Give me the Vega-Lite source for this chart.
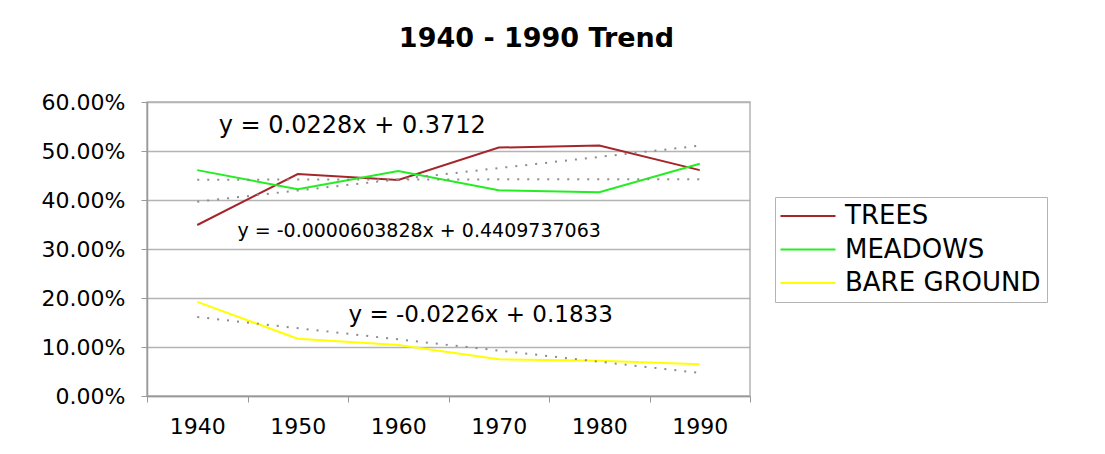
{
  "$schema": "https://vega.github.io/schema/vega-lite/v6.json",
  "width": 603,
  "height": 294,
  "padding": {"left": 41, "top": 25, "right": 10, "bottom": 10},
  "background": "white",
  "title": {"text": "1940 - 1990 Trend", "font": "DejaVu Sans", "fontSize": 27, "fontWeight": "bold", "color": "#000000", "anchor": "middle", "frame": "group", "dx": 88, "offset": 38},
  "config": {"view": {"stroke": "#b4b4b4", "strokeWidth": 1.5}, "font": "DejaVu Sans"},
  "datasets": {
    "shares": [
      {"series": "TREES", "year": 1940, "share": 0.349},
      {"series": "TREES", "year": 1950, "share": 0.453},
      {"series": "TREES", "year": 1960, "share": 0.441},
      {"series": "TREES", "year": 1970, "share": 0.507},
      {"series": "TREES", "year": 1980, "share": 0.511},
      {"series": "TREES", "year": 1990, "share": 0.461},
      {"series": "MEADOWS", "year": 1940, "share": 0.461},
      {"series": "MEADOWS", "year": 1950, "share": 0.422},
      {"series": "MEADOWS", "year": 1960, "share": 0.459},
      {"series": "MEADOWS", "year": 1970, "share": 0.420},
      {"series": "MEADOWS", "year": 1980, "share": 0.416},
      {"series": "MEADOWS", "year": 1990, "share": 0.474},
      {"series": "BARE GROUND", "year": 1940, "share": 0.192},
      {"series": "BARE GROUND", "year": 1950, "share": 0.117},
      {"series": "BARE GROUND", "year": 1960, "share": 0.104},
      {"series": "BARE GROUND", "year": 1970, "share": 0.075},
      {"series": "BARE GROUND", "year": 1980, "share": 0.072},
      {"series": "BARE GROUND", "year": 1990, "share": 0.065}
    ]
  },
  "layer": [
    {
      "data": {"name": "shares"},
      "mark": {"type": "line", "strokeWidth": 2},
      "encoding": {
        "x": {
          "field": "year", "type": "ordinal", "bandPosition": 0.5,
          "scale": {"type": "band", "paddingInner": 0, "paddingOuter": 0},
          "axis": {"title": null, "labelAngle": 0, "tickBand": "extent", "labelFont": "DejaVu Sans", "labelFontSize": 22, "labelColor": "#000000", "labelPadding": 14, "tickSize": 6, "tickColor": "#999999", "domainColor": "#999999", "domainWidth": 1.5, "grid": false}
        },
        "y": {
          "field": "share", "type": "quantitative",
          "scale": {"domain": [0, 0.6], "nice": false},
          "axis": {"title": null, "format": ".2%", "values": [0, 0.1, 0.2, 0.3, 0.4, 0.5, 0.6], "labelFont": "DejaVu Sans", "labelFontSize": 22, "labelColor": "#000000", "labelPadding": 16, "tickSize": 6, "tickColor": "#999999", "domainColor": "#999999", "domainWidth": 1.5, "grid": true, "gridColor": "#b4b4b4", "gridWidth": 1.5}
        },
        "color": {
          "field": "series", "type": "nominal",
          "scale": {"domain": ["TREES", "MEADOWS", "BARE GROUND"], "range": ["#A3262A", "#22EE22", "#FFFF00"]},
          "legend": {"title": null, "orient": "none", "legendX": 628, "legendY": 95, "labelFont": "DejaVu Sans", "labelFontSize": 26, "labelColor": "#000000", "symbolType": "M-2.75,0H2.75", "symbolSize": 400, "symbolStrokeWidth": 2, "symbolOffset": 14, "labelOffset": 24, "rowPadding": 7.5, "padding": 6, "strokeColor": "#b4b4b4", "fillColor": "white", "labelLimit": 400}
        }
      }
    },
    {
      "data": {"name": "shares"},
      "transform": [{"regression": "share", "on": "year", "groupby": ["series"]}],
      "mark": {"type": "line", "strokeDash": [2, 8], "strokeWidth": 2, "color": "#8c8c8c"},
      "encoding": {
        "x": {"field": "year", "type": "ordinal", "bandPosition": 0.5},
        "y": {"field": "share", "type": "quantitative"},
        "detail": {"field": "series"}
      }
    },
    {
      "data": {"values": [{"label": "y = 0.0228x + 0.3712", "year": 1960, "share": 0.5516}]},
      "mark": {"type": "text", "align": "center", "baseline": "middle", "fontSize": 24, "font": "DejaVu Sans", "color": "#000000"},
      "encoding": {
        "x": {"field": "year", "type": "ordinal", "bandPosition": 0.043},
        "y": {"field": "share", "type": "quantitative"},
        "text": {"field": "label"}
      }
    },
    {
      "data": {"values": [{"label": "y = -0.0000603828x + 0.4409737063", "year": 1960, "share": 0.3367}]},
      "mark": {"type": "text", "align": "center", "baseline": "middle", "fontSize": 19, "font": "DejaVu Sans", "color": "#000000"},
      "encoding": {
        "x": {"field": "year", "type": "ordinal", "bandPosition": 0.708},
        "y": {"field": "share", "type": "quantitative"},
        "text": {"field": "label"}
      }
    },
    {
      "data": {"values": [{"label": "y = -0.0226x + 0.1833", "year": 1970, "share": 0.1643}]},
      "mark": {"type": "text", "align": "center", "baseline": "middle", "fontSize": 23, "font": "DejaVu Sans", "color": "#000000"},
      "encoding": {
        "x": {"field": "year", "type": "ordinal", "bandPosition": 0.32},
        "y": {"field": "share", "type": "quantitative"},
        "text": {"field": "label"}
      }
    }
  ]
}
